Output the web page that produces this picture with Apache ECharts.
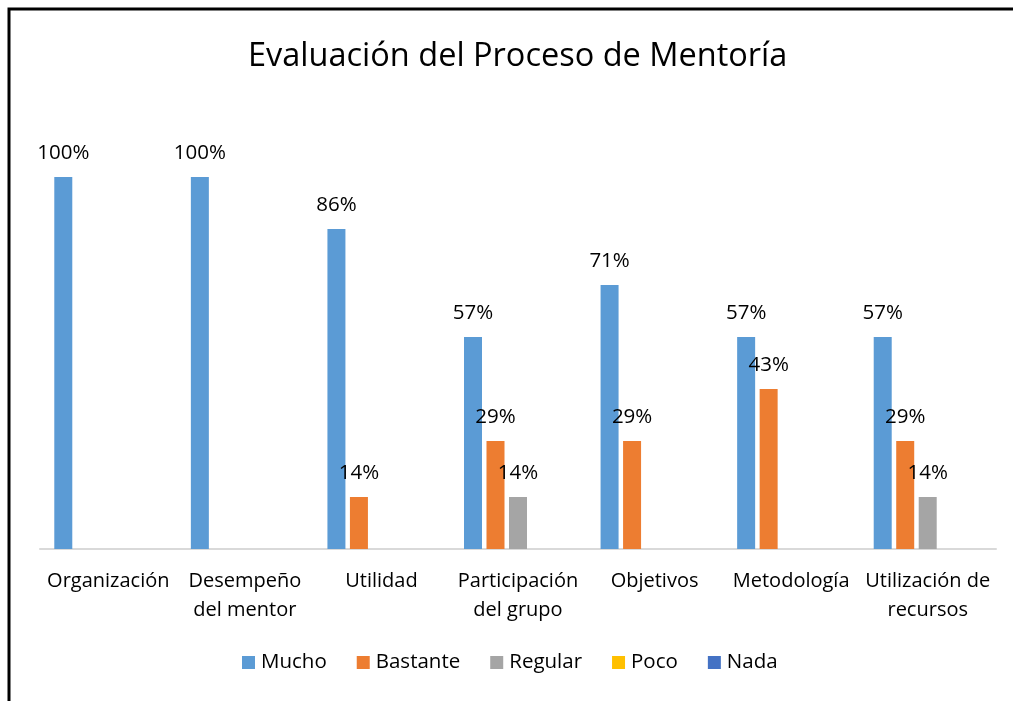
<!DOCTYPE html>
<html>
<head>
<meta charset="utf-8">
<script src="https://cdn.jsdelivr.net/npm/echarts@6/dist/echarts.min.js"></script>
<style>
  html, body { margin: 0; padding: 0; background: #fff; }
  #chart { width: 1013px; height: 701px; }
</style>
</head>
<body>
<div id="chart"></div>
<script>
const categories = ['Organización', 'Desempeño\ndel mentor', 'Utilidad', 'Participación\ndel grupo', 'Objetivos', 'Metodología', 'Utilización de\nrecursos']
const mucho = [100, 100, 86, 57, 71, 57, 57]
const bastante = [0, 0, 14, 29, 29, 43, 29]
const regular = [0, 0, 0, 14, 0, 0, 14]
const poco = [0, 0, 0, 0, 0, 0, 0]
const nada = [0, 0, 0, 0, 0, 0, 0]

const seriesNames = ['Mucho', 'Bastante', 'Regular', 'Poco', 'Nada']
const seriesData = [mucho, bastante, regular, poco, nada]
const colors = ['#5B9BD5', '#ED7D31', '#A5A5A5', '#FFC000', '#4472C4']

const chart = echarts.init(document.getElementById('chart'))
const font = '"Open Sans", sans-serif'

const option = {
  animation: false,
  backgroundColor: '#fff',
  textStyle: { fontFamily: font },
  title: {
    text: 'Evaluación del Proceso de Mentoría',
    left: 243,
    top: 35,
    textStyle: { fontFamily: font, fontSize: 32.5, fontWeight: 'normal', color: '#000' }
  },
  legend: {
    data: seriesNames,
    top: 647,
    left: 237,
    itemWidth: 13,
    itemHeight: 13,
    itemGap: 30,
    icon: 'rect',
    textStyle: { fontFamily: font, fontSize: 20.5, color: '#000', padding: [0, 0, 0, 1] }
  },
  grid: { left: 40, right: 17, top: 177, bottom: 152 },
  xAxis: {
    type: 'category',
    data: categories,
    axisLine: { lineStyle: { color: '#d9d9d9', width: 2 } },
    axisTick: { show: false },
    axisLabel: {
      interval: 0,
      margin: 18,
      fontFamily: font,
      fontSize: 20,
      lineHeight: 29,
      color: '#000'
    }
  },
  yAxis: {
    type: 'value',
    min: 0,
    max: 100,
    show: false,
    splitLine: { show: false }
  },
  series: seriesNames.map((name, i) => ({
    name: name,
    type: 'bar',
    data: seriesData[i],
    barWidth: 18,
    barGap: '25%',
    itemStyle: { color: colors[i] },
    label: {
      show: true,
      position: 'top',
      distance: 13,
      fontFamily: font,
      fontSize: 20.5,
      color: '#000',
      formatter: p => (p.value ? p.value + '%' : '')
    }
  })),
  graphic: [
    {
      type: 'rect',
      shape: { x: 9, y: 9, width: 1100, height: 800 },
      style: { fill: 'none', stroke: '#000', lineWidth: 3 },
      silent: true
    }
  ]
}

chart.setOption(option)
</script>
</body>
</html>
